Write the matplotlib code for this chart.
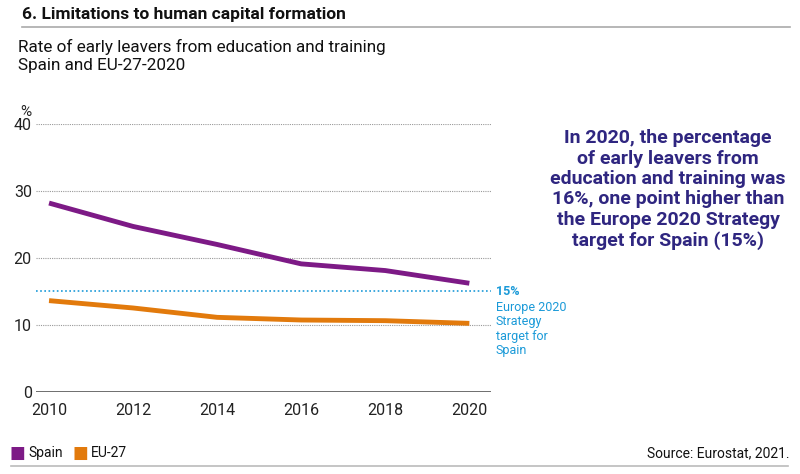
import matplotlib.pyplot as plt
from matplotlib.lines import Line2D

years = [2010, 2012, 2014, 2016, 2018, 2020]
spain = [28.2, 24.7, 22.0, 19.1, 18.1, 16.2]
eu27 = [13.6, 12.5, 11.1, 10.7, 10.6, 10.2]
target = 15
yticks = [0, 10, 20, 30, 40]

purple = "#7d1a86"
orange = "#e27a0c"
blue = "#1b9ad8"
navy = "#2f2680"

plt.rcParams['font.family'] = ['Roboto', 'DejaVu Sans']

fig = plt.figure(figsize=(8, 4.74), dpi=100)
ax = fig.add_axes([0.045, 0.174, 0.569, 0.564])

ax.plot(years, spain, color=purple, linewidth=3.5, solid_capstyle='butt', zorder=3)
ax.plot(years, eu27, color=orange, linewidth=3.5, solid_capstyle='butt', zorder=3)
ax.axhline(target, color=blue, linestyle=(0, (1, 1.5)), linewidth=1.2, zorder=2)

for v in yticks[1:]:
    ax.axhline(v, color="#999999", linestyle=(0, (1, 1)), linewidth=0.8, zorder=1)
ax.axhline(0, color="#555555", linewidth=1.2, zorder=2)

ax.set_xlim(2009.69, 2020.52)
ax.set_ylim(0, 40)
ax.set_xticks(years)
ax.set_yticks(yticks)
ax.tick_params(length=0, labelsize=11.5, colors="#222222")
ax.tick_params(axis='x', pad=8)
ax.tick_params(axis='y', pad=3)
for s in ax.spines.values():
    s.set_visible(False)
ax.text(-0.035, 1.03, "%", transform=ax.transAxes, fontsize=11, color="#222222")

# target annotation
fig.text(0.62, 0.386, "15%", color=blue, fontsize=9, fontweight='bold', va='center')
fig.text(0.62, 0.365, "Europe 2020\nStrategy\ntarget for\nSpain", color=blue,
         fontsize=9, va='top', linespacing=1.15)

# headers
fig.text(0.027, 0.97, "6. Limitations to human capital formation", fontsize=12.5,
         fontweight='bold', color="#111111", va='center')
fig.add_artist(Line2D([0.027, 0.988], [0.944, 0.944], color="#aaaaaa", linewidth=1.2))
fig.text(0.022, 0.918, "Rate of early leavers from education and training\nSpain and EU-27-2020",
         fontsize=12.3, color="#111111", va='top', linespacing=1.3)

fig.text(0.835, 0.6, "In 2020, the percentage\nof early leavers from\neducation and training was\n"
         "16%, one point higher than\nthe Europe 2020 Strategy\ntarget for Spain (15%)",
         fontsize=14, fontweight='bold', color=navy, ha='center', va='center', linespacing=1.17)

# legend and source
fig.text(0.012, 0.044, "■", color=purple, fontsize=12, va='center')
fig.text(0.035, 0.044, "Spain", color="#111111", fontsize=10, va='center')
fig.text(0.09, 0.044, "■", color=orange, fontsize=12, va='center')
fig.text(0.113, 0.044, "EU-27", color="#111111", fontsize=10, va='center')
fig.text(0.987, 0.044, "Source: Eurostat, 2021.", color="#111111", fontsize=10,
         ha='right', va='center')
fig.add_artist(Line2D([0.014, 0.985], [0.017, 0.017], color="#bbbbbb", linewidth=1.2))

fig.savefig("out.png", dpi=100)
